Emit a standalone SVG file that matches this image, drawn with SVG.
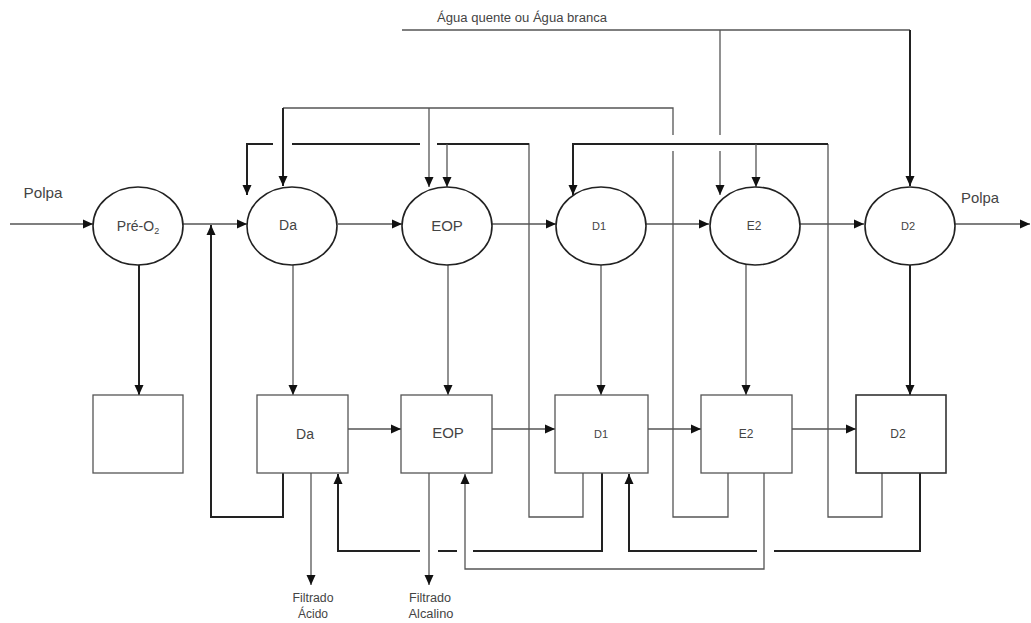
<svg xmlns="http://www.w3.org/2000/svg" width="1031" height="623" viewBox="0 0 1031 623">
<defs>
<marker id="ah" markerUnits="userSpaceOnUse" markerWidth="10" markerHeight="10" viewBox="0 0 10 10" refX="10" refY="5" orient="auto">
<path d="M0,0.5 L10,5 L0,9.5 Z" fill="#111"/>
</marker>
</defs>
<style>
.n{fill:#fff;stroke:#222;stroke-width:1.6}
.b{fill:#fff;stroke:#555;stroke-width:1.3}
.t{font-family:"Liberation Sans",Arial,sans-serif;fill:#444;text-anchor:middle}
.l{fill:none;stroke:#555;stroke-width:1.3}
.k{fill:none;stroke:#222;stroke-width:2}
.a{marker-end:url(#ah)}
</style>
<rect width="1031" height="623" fill="#fff"/>
<g id="connectors">
<!-- main pulp line -->
<line class="l a" x1="10" y1="224" x2="93" y2="224"/>
<line class="l a" x1="183" y1="224" x2="247" y2="224"/>
<line class="l a" x1="338" y1="224" x2="402" y2="224"/>
<line class="l a" x1="492" y1="224" x2="556" y2="224"/>
<line class="l a" x1="646" y1="224" x2="709" y2="224"/>
<line class="l a" x1="800" y1="224" x2="864" y2="224"/>
<line class="l a" x1="955" y1="224" x2="1030" y2="224"/>
<!-- water -->
<polyline class="l" points="402,30 910,30"/>
<polyline class="k a" points="910,30 910,186"/>
<line class="l" x1="720" y1="30" x2="720" y2="135"/>
<line class="l a" x1="720" y1="151" x2="720" y2="195"/>
<!-- E2 box filtrate to Da/EOP -->
<polyline class="l" points="728,473 728,517 673,517 673,151"/>
<polyline class="l" points="673,135 673,108 283,108"/>
<line class="k a" x1="283" y1="108" x2="283" y2="186"/>
<line class="l a" x1="429" y1="108" x2="429" y2="187"/>
<!-- D1 box filtrate to Da/EOP -->
<polyline class="l" points="583,473 583,517 529,517 529,144 437,144"/>
<line class="k" x1="420" y1="144" x2="292" y2="144"/>
<polyline class="k a" points="273,144 247,144 247,195"/>
<line class="k" x1="529" y1="144" x2="437" y2="144"/>
<line class="l a" x1="447" y1="144" x2="447" y2="187"/>
<!-- D2 box filtrate to D1/E2 -->
<polyline class="l" points="882,473 882,517 828,517 828,144"/>
<polyline class="k a" points="828,144 573,144 573,195"/>
<line class="l a" x1="756" y1="144" x2="756" y2="187"/>
<!-- ellipse to box -->
<line class="k a" x1="139" y1="265" x2="139" y2="395"/>
<line class="l a" x1="293" y1="265" x2="293" y2="395"/>
<line class="l a" x1="448" y1="265" x2="448" y2="395"/>
<line class="l a" x1="601" y1="265" x2="601" y2="395"/>
<line class="l a" x1="746" y1="265" x2="746" y2="395"/>
<line class="k a" x1="910" y1="265" x2="910" y2="395"/>
<!-- box to box -->
<line class="l a" x1="348" y1="429" x2="401" y2="429"/>
<line class="l a" x1="492" y1="429" x2="555" y2="429"/>
<line class="l a" x1="648" y1="429" x2="701" y2="429"/>
<line class="l a" x1="792" y1="429" x2="856" y2="429"/>
<!-- Da box to pre-O2 outlet -->
<polyline class="k a" points="283,473 283,517 211,517 211,225"/>
<!-- filtrates out -->
<line class="l a" x1="311" y1="473" x2="311" y2="585"/>
<line class="l a" x1="429" y1="473" x2="429" y2="585"/>
<!-- D1 box to Da box -->
<polyline class="k" points="602,473 602,551 473,551"/>
<line class="k" x1="457" y1="551" x2="438" y2="551"/>
<polyline class="k a" points="420,551 338,551 338,474"/>
<!-- E2 box to EOP box -->
<polyline class="l a" points="764,473 764,569 465,569 465,474"/>
<!-- D2 box to D1 box -->
<polyline class="k" points="920,473 920,551 774,551"/>
<polyline class="k a" points="757,551 629,551 629,474"/>
</g>
<g id="label-agua"><text class="t" x="522" y="22" font-size="12" textLength="170" lengthAdjust="spacingAndGlyphs">Água quente ou Água branca</text></g>
<g id="label-polpa-in"><text class="t" x="43" y="198" font-size="15" textLength="39" lengthAdjust="spacingAndGlyphs">Polpa</text></g>
<g id="label-polpa-out"><text class="t" x="980" y="203" font-size="15" textLength="38" lengthAdjust="spacingAndGlyphs">Polpa</text></g>
<g id="n-pre"><ellipse class="n" cx="138" cy="226" rx="45" ry="39"/><text class="t" x="138" y="231" font-size="14">Pré-O<tspan font-size="9" dy="3">2</tspan></text></g>
<g id="n-da"><ellipse class="n" cx="292" cy="226" rx="45" ry="39"/><text class="t" x="288" y="230" font-size="14">Da</text></g>
<g id="n-eop"><ellipse class="n" cx="447" cy="226" rx="45" ry="39"/><text class="t" x="447" y="231" font-size="15">EOP</text></g>
<g id="n-d1"><ellipse class="n" cx="601" cy="226" rx="45" ry="39"/><text class="t" x="599" y="230" font-size="11">D1</text></g>
<g id="n-e2"><ellipse class="n" cx="755" cy="226" rx="45" ry="39"/><text class="t" x="754" y="230" font-size="12">E2</text></g>
<g id="n-d2"><ellipse class="n" cx="910" cy="226" rx="45" ry="39"/><text class="t" x="908" y="230" font-size="11">D2</text></g>
<g id="b-pre"><rect class="b" x="93" y="395" width="90" height="78"/></g>
<g id="b-da"><rect class="b" x="257" y="395" width="91" height="78"/><text class="t" x="305" y="439" font-size="14">Da</text></g>
<g id="b-eop"><rect class="b" x="401" y="395" width="91" height="78"/><text class="t" x="448" y="438" font-size="15">EOP</text></g>
<g id="b-d1"><rect class="b" x="555" y="395" width="93" height="78"/><text class="t" x="601" y="438" font-size="11">D1</text></g>
<g id="b-e2"><rect class="b" x="701" y="395" width="91" height="78"/><text class="t" x="746" y="438" font-size="12">E2</text></g>
<g id="b-d2"><rect class="b" x="856" y="395" width="90" height="78" style="stroke:#333;stroke-width:1.6"/><text class="t" x="898" y="438" font-size="12">D2</text></g>
<g id="label-acido"><text class="t" x="313" y="602" font-size="12" textLength="41" lengthAdjust="spacingAndGlyphs">Filtrado</text><text class="t" x="313" y="618" font-size="12">Ácido</text></g>
<g id="label-alcalino"><text class="t" x="430" y="602" font-size="12" textLength="42" lengthAdjust="spacingAndGlyphs">Filtrado</text><text class="t" x="431" y="618" font-size="12" textLength="45" lengthAdjust="spacingAndGlyphs">Alcalino</text></g>
</svg>
